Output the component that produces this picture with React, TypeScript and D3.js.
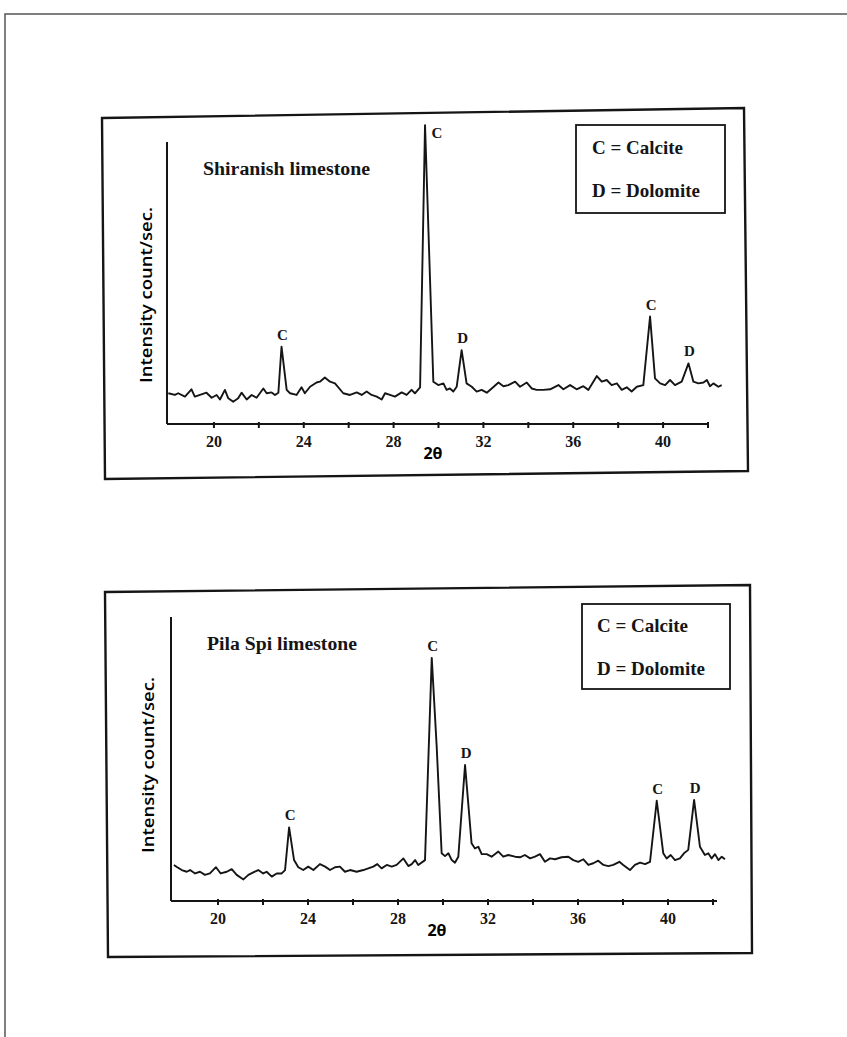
import { useEffect, useRef } from 'react';
import { select, scaleLinear, line, max } from 'd3';

type Point = [number, number];

// 2-theta (deg) vs intensity (arbitrary counts/sec)
const shiranishScan: Point[] = [
    [17.97, 10.9], [18.26, 10.3], [18.41, 10.9], [18.71, 9.7], [19.0, 12.3], [19.15, 9.7],
    [19.38, 10.3], [19.67, 11.1], [19.9, 9.3], [20.12, 10.3], [20.27, 8.7], [20.49, 12.1],
    [20.64, 9.1], [20.86, 7.9], [21.08, 9.1], [21.23, 11.1], [21.46, 8.7], [21.68, 10.3],
    [21.9, 9.3], [22.2, 12.6], [22.35, 10.9], [22.57, 11.2], [22.72, 10.3], [22.87, 11.1],
    [23.01, 27.4], [23.24, 12.1], [23.39, 10.9], [23.68, 10.3], [23.9, 13.0], [24.05, 10.9],
    [24.28, 13.2], [24.57, 14.7], [24.72, 15.0], [24.94, 16.5], [25.17, 15.0], [25.39, 14.4],
    [25.76, 10.9], [26.06, 10.3], [26.36, 11.2], [26.58, 10.3], [26.8, 11.5], [27.02, 10.3],
    [27.25, 9.7], [27.47, 8.7], [27.62, 10.9], [27.84, 10.3], [28.06, 9.7], [28.36, 11.2],
    [28.58, 10.3], [28.8, 12.1], [28.95, 10.9], [29.18, 13.0], [29.4, 106], [29.77, 15.0],
    [29.99, 13.8], [30.22, 14.4], [30.36, 12.1], [30.51, 12.6], [30.66, 11.5], [30.81, 13.2],
    [31.03, 26.2], [31.25, 14.4], [31.48, 13.2], [31.7, 11.5], [31.92, 12.1], [32.15, 11.1],
    [32.37, 12.6], [32.67, 14.7], [32.89, 13.4], [33.11, 13.8], [33.41, 15.0], [33.63, 13.2],
    [33.93, 14.7], [34.15, 12.6], [34.37, 12.1], [34.67, 12.1], [34.97, 12.3], [35.34, 13.8],
    [35.56, 12.3], [35.86, 13.8], [36.15, 12.3], [36.45, 13.4], [36.67, 12.1], [37.05, 17.0],
    [37.27, 15.0], [37.49, 15.6], [37.71, 13.8], [37.94, 14.4], [38.16, 12.1], [38.38, 13.0],
    [38.6, 11.5], [38.83, 13.2], [39.12, 13.8], [39.42, 38.1], [39.64, 16.2], [39.87, 14.4],
    [40.09, 13.8], [40.31, 15.6], [40.53, 13.8], [40.83, 15.0], [41.13, 21.5], [41.35, 15.0],
    [41.57, 14.4], [41.8, 14.7], [41.95, 15.6], [42.09, 13.4], [42.24, 14.4], [42.46, 13.2],
    [42.61, 13.8],
];

const pilaSpiScan: Point[] = [
    [18.04, 12.7], [18.19, 11.9], [18.39, 10.9], [18.61, 10.3], [18.76, 10.9], [18.98, 9.7],
    [19.2, 10.3], [19.42, 9.2], [19.64, 9.7], [19.91, 11.9], [20.12, 9.7], [20.39, 10.3],
    [20.61, 11.2], [20.83, 9.2], [21.13, 7.6], [21.35, 9.2], [21.57, 10.1], [21.79, 10.9],
    [22.01, 9.7], [22.16, 10.3], [22.39, 8.6], [22.61, 9.7], [22.83, 9.7], [22.98, 10.9],
    [23.16, 25.9], [23.38, 14.4], [23.57, 11.9], [23.79, 10.9], [24.01, 12.1], [24.24, 10.9],
    [24.53, 13.0], [24.76, 12.1], [24.98, 10.9], [25.2, 11.9], [25.42, 12.1], [25.64, 10.3],
    [25.87, 10.9], [26.16, 10.3], [26.46, 10.9], [26.68, 11.5], [26.9, 12.1], [27.08, 13.0],
    [27.27, 11.5], [27.5, 12.7], [27.72, 12.1], [27.94, 12.7], [28.24, 15.0], [28.46, 12.3],
    [28.61, 13.0], [28.76, 14.4], [28.9, 12.7], [29.2, 14.4], [29.5, 85.6], [29.72, 54.3],
    [29.94, 16.8], [30.09, 15.8], [30.24, 16.8], [30.39, 14.4], [30.53, 13.5], [30.68, 15.6],
    [30.98, 47.9], [31.27, 20.3], [31.42, 18.5], [31.57, 19.1], [31.72, 16.5], [31.94, 16.5],
    [32.16, 15.6], [32.46, 17.4], [32.68, 15.6], [32.9, 16.2], [33.2, 15.6], [33.42, 15.4],
    [33.64, 16.2], [33.87, 15.0], [34.09, 15.6], [34.31, 16.5], [34.53, 13.8], [34.76, 15.0],
    [34.98, 14.7], [35.27, 15.4], [35.57, 15.6], [35.79, 14.4], [36.01, 13.8], [36.24, 14.7],
    [36.46, 12.7], [36.68, 13.3], [36.9, 14.2], [37.13, 12.7], [37.35, 12.3], [37.57, 12.7],
    [37.84, 13.8], [38.01, 12.7], [38.31, 10.9], [38.53, 12.7], [38.76, 13.5], [38.98, 13.0],
    [39.2, 13.8], [39.5, 35.3], [39.79, 16.8], [39.94, 15.0], [40.12, 16.2], [40.31, 14.4],
    [40.53, 15.0], [40.71, 16.8], [40.9, 18.0], [41.16, 35.6], [41.42, 19.1], [41.64, 16.2],
    [41.79, 16.8], [41.94, 15.0], [42.09, 16.5], [42.24, 14.4], [42.39, 15.6], [42.53, 14.7],
];

// Peak identification (C = calcite, D = dolomite)
const shiranishPeaks = [
    { theta: 23.01, phase: 'C' },
    { theta: 29.4, phase: 'C' },
    { theta: 31.03, phase: 'D' },
    { theta: 39.42, phase: 'C' },
    { theta: 41.13, phase: 'D' },
];
const pilaSpiPeaks = [
    { theta: 23.16, phase: 'C' },
    { theta: 29.5, phase: 'C' },
    { theta: 30.98, phase: 'D' },
    { theta: 39.5, phase: 'C' },
    { theta: 41.16, phase: 'D' },
];

const xTicks = [20, 22, 24, 26, 28, 30, 32, 34, 36, 38, 40, 42];
const xTickLabels = [20, 24, 28, 32, 36, 40];
const legendEntries = ['C = Calcite', 'D = Dolomite'];

const X_DOMAIN: [number, number] = [18, 42];
const Y_DOMAIN: [number, number] = [0, 100];

const SERIF = '"Liberation Serif", "Times New Roman", serif';
const SANS = '"Open Sans", "Noto Sans", sans-serif';
const INK = '#151515';

interface Layout {
    frame: [number, number][];
    xRange: [number, number];
    yRange: [number, number];
    axisEnd: number;
    title: [number, number];
    titleWidth: number;
    legend: { x: number; y: number; w: number; h: number };
    legendTextX: number;
    legendBaselines: number[];
    yLabel: [number, number];
    xLabel: [number, number];
}

const topLayout: Layout = {
    frame: [[102, 118], [744, 108], [748, 471], [105, 479]],
    xRange: [169, 708],
    yRange: [424, 142],
    axisEnd: 709,
    title: [203, 175],
    titleWidth: 167,
    legend: { x: 576, y: 125, w: 149, h: 88 },
    legendTextX: 592,
    legendBaselines: [154, 197],
    yLabel: [145, 295],
    xLabel: [433, 453],
};

const bottomLayout: Layout = {
    frame: [[105, 592], [750, 585], [752, 953], [108, 957]],
    xRange: [173, 713],
    yRange: [901, 617],
    axisEnd: 717,
    title: [207, 650],
    titleWidth: 150,
    legend: { x: 582, y: 604, w: 148, h: 85 },
    legendTextX: 597,
    legendBaselines: [632, 675],
    yLabel: [147, 765],
    xLabel: [437, 930],
};

function XrdPanel({
    title,
    scan,
    peaks,
    layout,
}: {
    title: string;
    scan: Point[];
    peaks: { theta: number; phase: string }[];
    layout: Layout;
}) {
    const gRef = useRef<SVGGElement | null>(null);

    useEffect(() => {
        const g = select(gRef.current);
        g.selectAll('*').remove();

        const x = scaleLinear().domain(X_DOMAIN).range(layout.xRange);
        const y = scaleLinear().domain(Y_DOMAIN).range(layout.yRange);
        const y0 = layout.yRange[0];
        const xLeft = layout.xRange[0] - 2;

        // Frame (scanned page is slightly skewed)
        g.append('path')
            .attr('d', 'M' + layout.frame.map((p) => p.join(',')).join('L') + 'Z')
            .attr('fill', 'none')
            .attr('stroke', INK)
            .attr('stroke-width', 2.4);

        // Axes
        g.append('line')
            .attr('x1', xLeft)
            .attr('x2', xLeft)
            .attr('y1', layout.yRange[1])
            .attr('y2', y0)
            .attr('stroke', INK)
            .attr('stroke-width', 2);
        g.append('line')
            .attr('x1', xLeft)
            .attr('x2', layout.axisEnd)
            .attr('y1', y0)
            .attr('y2', y0)
            .attr('stroke', INK)
            .attr('stroke-width', 2.2);

        g.append('g')
            .selectAll('line')
            .data(xTicks)
            .join('line')
            .attr('x1', (d) => x(d))
            .attr('x2', (d) => x(d))
            .attr('y1', y0 - 2)
            .attr('y2', y0 + 4)
            .attr('stroke', INK)
            .attr('stroke-width', 2);

        g.append('g')
            .selectAll('text')
            .data(xTickLabels)
            .join('text')
            .text((d) => d)
            .attr('x', (d) => x(d))
            .attr('y', y0 + 23)
            .attr('text-anchor', 'middle')
            .style('font-family', SERIF)
            .style('font-weight', 'bold')
            .style('font-size', '16px')
            .style('fill', INK);

        // Diffraction trace
        const trace = line<Point>()
            .x((d) => x(d[0]))
            .y((d) => y(d[1]));
        g.append('path')
            .datum(scan)
            .attr('d', trace)
            .attr('fill', 'none')
            .attr('stroke', INK)
            .attr('stroke-width', 1.9)
            .attr('stroke-linejoin', 'round');

        // Peak labels, above each peak (beside it if it runs off the axis)
        const peakTop = (t: number) =>
            max(scan.filter((d) => Math.abs(d[0] - t) < 0.2), (d) => d[1]) ?? 0;
        g.append('g')
            .selectAll('text')
            .data(peaks)
            .join('text')
            .text((d) => d.phase)
            .attr('x', (d) => (y(peakTop(d.theta)) < layout.yRange[1] ? x(d.theta) + 12 : x(d.theta) + 1))
            .attr('y', (d) =>
                y(peakTop(d.theta)) < layout.yRange[1] ? y(peakTop(d.theta)) + 13 : y(peakTop(d.theta)) - 7
            )
            .attr('text-anchor', 'middle')
            .style('font-family', SERIF)
            .style('font-weight', 'bold')
            .style('font-size', '15px')
            .style('fill', INK);

        // Title
        g.append('text')
            .text(title)
            .attr('x', layout.title[0])
            .attr('y', layout.title[1])
            .attr('textLength', layout.titleWidth)
            .attr('lengthAdjust', 'spacingAndGlyphs')
            .style('font-family', SERIF)
            .style('font-weight', 'bold')
            .style('font-size', '18px')
            .style('fill', INK);

        // Legend
        const lg = layout.legend;
        g.append('rect')
            .attr('x', lg.x)
            .attr('y', lg.y)
            .attr('width', lg.w)
            .attr('height', lg.h)
            .attr('fill', 'none')
            .attr('stroke', INK)
            .attr('stroke-width', 1.8);
        g.append('g')
            .selectAll('text')
            .data(legendEntries)
            .join('text')
            .text((d) => d)
            .attr('x', layout.legendTextX)
            .attr('y', (d, i) => layout.legendBaselines[i])
            .style('font-family', SERIF)
            .style('font-weight', 'bold')
            .style('font-size', '19px')
            .style('fill', INK);

        // Axis titles
        g.append('text')
            .text('Intensity count/sec.')
            .attr('transform', `translate(${layout.yLabel[0]},${layout.yLabel[1]}) rotate(-90)`)
            .attr('text-anchor', 'middle')
            .attr('dominant-baseline', 'central')
            .attr('textLength', 176)
            .attr('lengthAdjust', 'spacingAndGlyphs')
            .style('font-family', SANS)
            .style('font-weight', 600)
            .style('font-size', '17px')
            .style('fill', '#000');
        g.append('text')
            .text('2θ')
            .attr('x', layout.xLabel[0])
            .attr('y', layout.xLabel[1])
            .attr('text-anchor', 'middle')
            .attr('dominant-baseline', 'central')
            .style('font-family', SANS)
            .style('font-weight', 700)
            .style('font-size', '16px')
            .style('fill', '#000');
    }, [title, scan, peaks, layout]);

    return <g ref={gRef} />;
}

export default function App() {
    return (
        <svg
            width={847}
            height={1037}
            viewBox="0 0 847 1037"
            style={{ position: 'absolute', left: 0, top: 0, background: '#fff' }}
        >
            {/* page edge of the scan */}
            <path d="M5,1037 L5,14 L847,14" fill="none" stroke="#555" strokeWidth={1.5} />
            <XrdPanel title="Shiranish limestone" scan={shiranishScan} peaks={shiranishPeaks} layout={topLayout} />
            <XrdPanel title="Pila Spi limestone" scan={pilaSpiScan} peaks={pilaSpiPeaks} layout={bottomLayout} />
        </svg>
    );
}
